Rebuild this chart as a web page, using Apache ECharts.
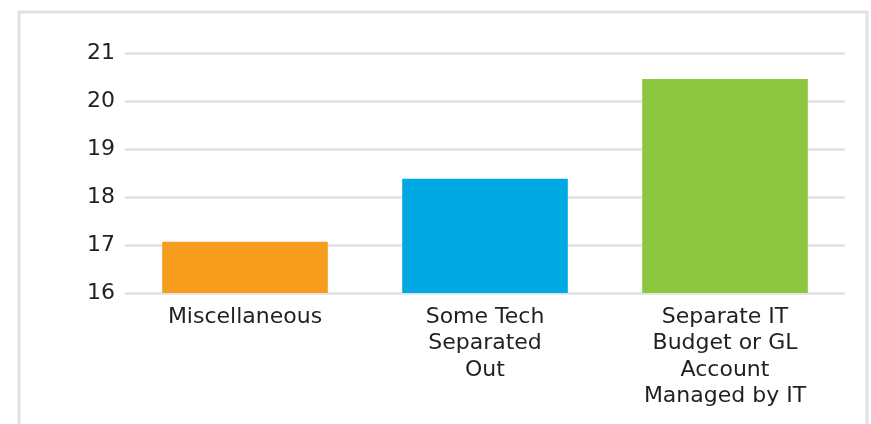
<!DOCTYPE html>
<html><head><meta charset="utf-8">
<script src="https://cdn.jsdelivr.net/npm/echarts@6/dist/echarts.min.js"></script>
<style>html,body{margin:0;padding:0;background:#fff}#c{width:871px;height:424px}</style>
</head><body><div id="c"></div>
<script>
const categories = ["Miscellaneous", "Some Tech\nSeparated\nOut", "Separate IT\nBudget or GL\nAccount\nManaged by IT"];
const values = [17.07, 18.38, 20.46];
const colors = ["#f79d1e", "#00a8e4", "#8dc63f"];
const yTicks = {min: 16, max: 21, interval: 1};

const chart = echarts.init(document.getElementById('c'), null, {renderer: 'canvas'});
chart.setOption({
  animation: false,
  textStyle: {fontFamily: 'DejaVu Sans'},
  graphic: [{
    type: 'rect', left: 16.5, top: 9.5, silent: true,
    shape: {x: 0, y: 0, width: 848, height: 430},
    style: {fill: 'none', stroke: '#dfe1e4', lineWidth: 3}
  }],
  grid: {left: 125, right: 26, top: 53, bottom: 131, containLabel: false},
  xAxis: {
    type: 'category', data: categories,
    axisLine: {show: false}, axisTick: {show: false},
    axisLabel: {color: '#231f20', fontSize: 22, lineHeight: 26.5, margin: 11, interval: 0, fontFamily: 'DejaVu Sans'}
  },
  yAxis: {
    type: 'value', min: yTicks.min, max: yTicks.max, interval: yTicks.interval,
    axisLine: {show: false}, axisTick: {show: false},
    axisLabel: {color: '#231f20', fontSize: 22, margin: 10, fontFamily: 'DejaVu Sans'},
    splitLine: {lineStyle: {color: '#dfe2e6', width: 2.5}}
  },
  series: [{
    type: 'bar', barWidth: '69%',
    data: values.map((v, i) => ({value: v, itemStyle: {color: colors[i]}}))
  }]
});
</script></body></html>
